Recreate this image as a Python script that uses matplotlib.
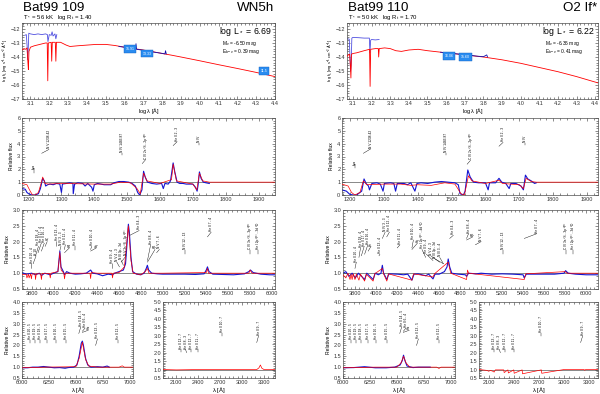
import matplotlib
matplotlib.use("Agg")
import matplotlib.pyplot as plt
from matplotlib.ticker import MultipleLocator, AutoMinorLocator

plt.rcParams["font.family"] = ["Liberation Sans", "DejaVu Sans"]
plt.rcParams["mathtext.default"] = "regular"

# ---------------- data: SED (log lambda, log f_lambda) ----------------
sed109_mod_x = [3.055, 3.065, 3.075, 3.082, 3.086, 3.089, 3.092, 3.10, 3.12, 3.15, 3.18, 3.189,
                3.192, 3.195, 3.21, 3.213, 3.216, 3.232, 3.235, 3.238, 3.26, 3.29, 3.31, 3.35,
                3.40, 3.45, 3.50, 3.55, 3.60, 3.65, 3.70, 3.75, 3.80, 3.85, 3.90, 4.00, 4.10,
                4.20, 4.30, 4.40]
sed109_mod_y = [-13.5, -13.4, -13.45, -13.35, -14.3, -14.9, -13.6, -13.3, -13.2, -13.1, -13.0, -13.0,
                -15.7, -13.0, -12.95, -14.3, -12.95, -12.95, -14.3, -12.95, -12.95, -13.15, -13.25, -13.2,
                -13.15, -13.1, -13.1, -13.18, -13.3, -13.4, -13.5, -13.62, -13.75, -13.87, -14.0, -14.27,
                -14.55, -14.82, -15.1, -15.4]
sed109_uv_x = [3.07, 3.078, 3.082, 3.085, 3.088, 3.091, 3.10, 3.12, 3.14, 3.16, 3.18, 3.19, 3.193,
               3.20, 3.21, 3.215, 3.22, 3.23, 3.235, 3.24]
sed109_uv_y = [-12.45, -12.4, -13.2, -14.2, -13.5, -12.3, -12.35, -12.4, -12.35, -12.4, -12.35, -12.4,
               -12.9, -12.4, -12.45, -12.2, -12.5, -12.35, -12.7, -12.4]
sed109_opt_x = [3.57, 3.60, 3.63, 3.659, 3.661, 3.664, 3.70, 3.73, 3.76, 3.80, 3.815, 3.818, 3.822]
sed109_opt_y = [-13.25, -13.3, -13.38, -13.45, -13.05, -13.45, -13.52, -13.6, -13.66, -13.74, -13.78, -13.55, -13.78]
sed109_phot_x = [3.63, 3.72, 4.34]
sed109_phot_y = [-13.45, -13.75, -14.98]
sed109_phot_lbl = ["15.91", "13.33", "11.5"]

sed110_mod_x = [3.068, 3.075, 3.082, 3.086, 3.089, 3.092, 3.10, 3.12, 3.16, 3.189, 3.192, 3.195,
                3.22, 3.236, 3.238, 3.241, 3.27, 3.30, 3.33, 3.36, 3.40, 3.45, 3.50, 3.60, 3.70,
                3.80, 3.90, 4.00, 4.10, 4.20, 4.30, 4.415]
sed110_mod_y = [-13.95, -13.85, -13.8, -14.6, -15.5, -13.8, -13.75, -13.7, -13.55, -13.45, -16.1, -13.45,
                -13.4, -13.4, -14.0, -13.4, -13.35, -13.4, -13.55, -13.6, -13.5, -13.45, -13.55, -13.7, -13.85,
                -14.0, -14.2, -14.45, -14.75, -15.05, -15.4, -15.85]
sed110_uv_x = [3.07, 3.08, 3.083, 3.087, 3.09, 3.094, 3.10, 3.13, 3.16, 3.188, 3.191, 3.195, 3.20, 3.22, 3.24]
sed110_uv_y = [-12.7, -12.72, -13.6, -15.0, -14.6, -12.65, -12.6, -12.62, -12.65, -12.65, -13.7, -12.8,
               -12.75, -12.78, -12.75]
sed110_opt_x = [3.57, 3.60, 3.63, 3.66, 3.70, 3.73, 3.76, 3.80, 3.818, 3.822]
sed110_opt_y = [-13.66, -13.7, -13.74, -13.78, -13.84, -13.88, -13.93, -13.98, -13.85, -14.0]
sed110_phot_x = [3.615, 3.705]
sed110_phot_y = [-13.95, -13.98]
sed110_phot_lbl = ["16.06", "15.60"]

# ---------------- data: UV relative flux ----------------
uv109_obs_x = [1180, 1190, 1195, 1200, 1205, 1210, 1220, 1230, 1236, 1243, 1248, 1252, 1258, 1265, 1275,
               1285, 1295, 1300, 1303, 1315, 1325, 1335, 1336, 1340, 1350, 1365, 1372, 1380, 1392, 1396,
               1400, 1410, 1420, 1430, 1440, 1450, 1460, 1475, 1490, 1505, 1515, 1525, 1532, 1538, 1545,
               1550, 1555, 1562, 1575, 1590, 1605, 1610, 1615, 1625, 1632, 1640, 1645, 1652, 1660, 1670,
               1680, 1690, 1700, 1708, 1713, 1716, 1720, 1725, 1732, 1740, 1750]
uv109_obs_y = [0.5, 0.45, 0.2, 0.1, 0.05, 0.0, 0.0, 0.1, 0.5, 1.3, 1.1, 0.7, 0.8, 0.85, 0.8,
               0.9, 0.85, 0.2, 0.85, 0.9, 0.95, 0.9, 0.1, 0.85, 0.95, 0.9, 0.7, 0.9, 0.6, 0.3,
               0.8, 0.9, 0.85, 0.8, 0.8, 0.8, 0.95, 1.05, 1.05, 1.0, 0.9, 0.7, 0.2, 0.0, 0.4,
               1.85, 1.4, 1.0, 0.9, 0.85, 0.9, 0.5, 0.9, 0.85, 1.1, 2.5, 1.8, 1.0, 0.9, 0.9,
               0.85, 0.85, 0.85, 0.6, 0.3, 0.8, 1.8, 1.3, 1.0, 0.95, 0.9]
uv109_mod_x = [1180, 1195, 1205, 1212, 1220, 1230, 1238, 1243, 1250, 1260, 1300, 1400, 1450, 1480,
               1510, 1530, 1540, 1550, 1560, 1600, 1635, 1640, 1650, 1700, 1712, 1720, 1730, 1750, 1950]
uv109_mod_y = [0.9, 0.8, 0.3, 0.0, 0.0, 0.2, 0.9, 1.4, 0.9, 0.85, 0.9, 0.85, 0.85, 1.0,
               0.95, 0.5, 0.1, 1.7, 1.1, 0.9, 1.2, 2.4, 1.1, 0.85, 0.4, 1.7, 1.1, 1.0, 1.0]

uv110_obs_x = [1177, 1190, 1200, 1210, 1220, 1235, 1242, 1248, 1255, 1258, 1265, 1280, 1290, 1298,
               1302, 1320, 1330, 1335, 1340, 1360, 1370, 1380, 1392, 1398, 1410, 1430, 1450, 1470,
               1490, 1510, 1520, 1525, 1535, 1540, 1548, 1555, 1565, 1580, 1600, 1608, 1612, 1630,
               1640, 1648, 1660, 1670, 1675, 1690, 1705, 1712, 1718, 1725, 1735, 1745, 1750]
uv110_obs_y = [0.4, 0.3, 0.05, 0.0, 0.0, 0.3, 1.25, 0.9, 0.7, 0.4, 0.9, 0.95, 0.85, 0.3,
               0.9, 0.95, 0.9, 0.3, 0.9, 0.9, 0.8, 0.95, 0.3, 0.9, 0.95, 0.9, 1.0, 1.05,
               1.0, 0.95, 0.8, 0.1, 0.0, 0.3, 1.95, 1.4, 1.0, 0.95, 0.95, 0.4, 0.95, 0.95,
               1.3, 1.0, 0.9, 0.5, 0.9, 0.9, 0.7, 0.4, 1.55, 1.25, 1.1, 0.9, 0.95]
uv110_mod_x = [1177, 1195, 1205, 1215, 1230, 1240, 1250, 1300, 1350, 1380, 1400, 1440, 1480, 1510,
               1528, 1538, 1550, 1560, 1600, 1640, 1650, 1700, 1712, 1720, 1735, 1750, 1932]
uv110_mod_y = [0.85, 0.7, 0.2, 0.0, 0.2, 1.1, 0.8, 0.85, 0.85, 0.75, 0.8, 0.75, 0.95, 0.85,
               0.1, 0.0, 1.5, 1.1, 0.9, 1.15, 0.9, 0.8, 0.5, 1.3, 1.05, 1.0, 1.0]

# ---------------- data: optical relative flux ----------------
opt109_obs_x = [3711, 3750, 3800, 3835, 3870, 3890, 3920, 3970, 4000, 4040, 4058, 4068, 4090, 4101,
                4120, 4150, 4200, 4250, 4300, 4340, 4360, 4400, 4450, 4500, 4541, 4560, 4600, 4640,
                4660, 4675, 4686, 4695, 4710, 4725, 4760, 4800, 4830, 4850, 4860, 4872, 4900, 4950,
                5000, 5100, 5200, 5300, 5380, 5400, 5411, 5425, 5460, 5550, 5650, 5750, 5790, 5805,
                5830, 5900, 5980, 6030]
opt109_obs_y = [1.02, 0.97, 1.0, 0.95, 1.0, 0.93, 1.0, 0.95, 1.0, 1.05, 1.7, 1.2, 1.05, 0.95,
                1.05, 1.0, 0.97, 0.98, 1.0, 1.1, 1.0, 0.98, 0.92, 0.97, 0.95, 1.0, 1.05, 1.1,
                1.3, 2.0, 2.55, 2.3, 1.5, 1.05, 0.97, 0.95, 1.0, 1.15, 1.25, 1.1, 1.0, 0.98,
                0.97, 0.97, 0.97, 0.96, 0.98, 1.1, 1.2, 1.05, 0.97, 0.96, 0.95, 0.98, 1.05, 1.1,
                1.02, 0.97, 0.95, 0.95]
opt109_mod_x = [3711, 3750, 3756, 3770, 3776, 3790, 3797, 3804, 3830, 3835, 3842, 3882, 3889, 3896,
                3963, 3970, 3977, 4040, 4058, 4070, 4094, 4101, 4108, 4300, 4334, 4340, 4346, 4400,
                4535, 4541, 4547, 4600, 4650, 4686, 4710, 4730, 4800, 4840, 4861, 4875, 5000, 5400,
                5411, 5420, 5790, 5801, 5820, 6030]
opt109_mod_y = [0.95, 0.97, 0.85, 0.97, 0.85, 0.98, 0.82, 0.98, 0.98, 0.8, 0.98, 0.98, 0.8, 0.99,
                0.99, 0.85, 1.0, 1.05, 1.65, 1.1, 1.0, 0.82, 1.0, 1.0, 1.0, 0.83, 1.02, 1.0,
                1.0, 0.85, 1.0, 1.02, 1.2, 2.5, 1.4, 1.0, 0.95, 1.05, 1.15, 1.0, 1.0, 1.02,
                1.15, 1.0, 1.0, 1.1, 1.0, 1.0]

opt110_obs_x = [3683, 3710, 3740, 3770, 3800, 3830, 3860, 3889, 3910, 3970, 3990, 4020, 4045, 4058,
                4070, 4101, 4120, 4200, 4260, 4300, 4340, 4360, 4400, 4471, 4500, 4541, 4560, 4600,
                4650, 4675, 4686, 4700, 4720, 4780, 4850, 4861, 4880, 4950, 5000, 5100, 5200, 5300,
                5400, 5411, 5430, 5550, 5700, 5790, 5805, 5830, 5900, 6000, 6114]
opt110_obs_y = [1.0, 1.05, 0.9, 1.0, 0.85, 1.0, 0.9, 0.8, 1.0, 0.8, 1.0, 0.95, 1.0, 1.25,
                1.0, 0.8, 0.98, 0.97, 0.95, 0.97, 0.78, 0.97, 0.98, 0.92, 0.97, 0.82, 0.97, 0.97,
                1.05, 1.2, 1.45, 1.2, 1.0, 0.97, 0.95, 0.9, 1.0, 0.98, 1.0, 0.97, 0.98, 0.97,
                0.95, 0.85, 0.97, 0.97, 0.97, 1.0, 1.08, 1.0, 0.97, 0.95, 0.95]
opt110_mod_x = [3683, 3710, 3730, 3750, 3760, 3770, 3780, 3797, 3810, 3835, 3850, 3889, 3905, 3970,
                3985, 4058, 4070, 4101, 4115, 4340, 4355, 4541, 4555, 4686, 4710, 4861, 4870, 4880,
                5411, 5425, 5801, 5820, 6114]
opt110_mod_y = [0.95, 0.85, 1.0, 0.8, 0.97, 0.8, 0.98, 0.8, 0.97, 0.78, 0.97, 0.75, 0.97, 0.75,
                0.98, 1.15, 0.98, 0.75, 0.98, 0.78, 0.98, 0.88, 0.98, 1.35, 1.0, 0.8, 1.1, 1.0,
                0.8, 0.98, 1.05, 1.0, 1.0]

# ---------------- data: H-alpha region ----------------
ha109_obs_x = [6000, 6050, 6100, 6150, 6200, 6250, 6300, 6350, 6400, 6430, 6480, 6510, 6530, 6550,
               6560, 6570, 6590, 6610, 6640, 6700, 6750, 6790, 6810]
ha109_obs_y = [0.97, 0.97, 1.0, 1.0, 1.03, 1.0, 0.97, 0.98, 0.95, 0.98, 1.0, 1.1, 1.5, 2.1,
               2.2, 2.0, 1.4, 1.1, 1.0, 1.02, 1.0, 1.05, 1.0]
ha109_mod_x = [6000, 6200, 6500, 6530, 6560, 6590, 6620, 6700, 6900, 6930, 6950, 7030]
ha109_mod_y = [0.97, 1.0, 1.02, 1.4, 2.15, 1.35, 1.05, 1.0, 1.0, 1.06, 1.0, 1.0]

ha110_obs_x = [6000, 6100, 6200, 6300, 6400, 6480, 6530, 6550, 6562, 6575, 6595, 6650, 6700, 6750, 6810]
ha110_obs_y = [0.97, 0.98, 1.02, 0.97, 0.97, 1.0, 1.1, 1.3, 1.55, 1.3, 1.05, 0.98, 1.0, 1.0, 1.0]
ha110_mod_x = [6000, 6300, 6500, 6540, 6562, 6585, 6620, 6870, 6891, 6910, 7040]
ha110_mod_y = [0.97, 1.0, 1.0, 1.2, 1.5, 1.2, 1.0, 1.0, 0.94, 1.0, 1.0]

# ---------------- data: IR region (model only) ----------------
ir109_mod_x = [1917, 2100, 2400, 2700, 3000, 3200, 3230, 3250, 3270, 3300, 3450]
ir109_mod_y = [1.0, 0.98, 1.0, 1.0, 1.0, 1.0, 1.1, 1.27, 1.08, 1.0, 1.0]
ir110_mod_x = [1984, 2080, 2100, 2120, 2150, 2165, 2180, 2280, 2285, 2330, 2335, 2400, 2405,
               2500, 2505, 2730, 2735, 3000, 3240, 3250, 3260, 3408]
ir110_mod_y = [1.0, 0.95, 0.9, 0.95, 0.9, 0.85, 0.98, 0.98, 0.82, 0.98, 0.8, 0.98, 0.78,
               0.98, 0.75, 0.98, 0.78, 1.0, 1.0, 0.96, 1.0, 1.0]

# ---------------- line identifications: (line x, line y, text x, text y, label) ----------------
uv_ann_109 = [(1215, 1.7, 1215, 2.0, "Lyα"), (1240, 3.25, 1262, 3.55, "N V 1238-42"),
              (1485, 3.1, 1485, 3.25, "N IV 1483-87"), (1546, 2.45, 1556, 2.75, "C IV 2s ²S - 2p ²P°"),
              (1640, 3.85, 1652, 4.15, "He II 2 - 3"), (1718, 3.9, 1718, 4.05, "N IV")]
uv_ann_110 = [(1215, 2.1, 1215, 2.3, "Lyα"), (1240, 3.25, 1262, 3.6, "N V 1238-42"),
              (1485, 3.1, 1485, 3.25, "N IV 1483-87"), (1546, 2.4, 1556, 2.7, "C IV 2s ²S - 2p ²P°"),
              (1640, 3.8, 1652, 4.1, "He II 2 - 3"), (1718, 3.9, 1718, 4.05, "N IV")]
opt_ann_109 = [(3797, 1.15, 3800, 1.3, "He II 20 - 4"), (3813, 1.3, 3840, 1.55, "H 10"),
               (3835, 1.55, 3862, 1.85, "He II 18 - 4"), (3858, 1.65, 3888, 1.95, "He II 17 - 4"),
               (3889, 1.7, 3915, 1.95, "He II 16 - 4"), (3923, 1.85, 3942, 2.0, "Hζ"),
               (4026, 1.85, 4030, 2.0, "He II 13 - 4"), (4058, 1.72, 4068, 1.85, "N IV 3 - 3"),
               (4100, 1.75, 4108, 1.9, "He II 12 - 4"), (4101, 1.65, 4145, 1.8, "Hδ"),
               (4200, 1.75, 4200, 1.85, "He II 11 - 4"), (4340, 1.75, 4350, 1.85, "He II 10 - 4"),
               (4340, 1.7, 4392, 1.8, "Hγ"), (4541, 1.15, 4538, 1.3, "He II 9 - 4"),
               (4604, 1.2, 4580, 1.35, "N V 4 - 3"), (4640, 1.25, 4622, 1.4, "N III 3p - 3d"),
               (4620, 1.35, 4665, 1.55, "N V 3s ²S - 3p ²P°"), (4700, 2.2, 4785, 2.35, "He II 4 - 3"),
               (4861, 1.4, 4890, 1.9, "He II 8 - 4"), (4861, 1.35, 4930, 1.75, "Hβ"),
               (4945, 1.65, 4970, 1.75, "N V 7 - 6"), (5204, 1.6, 5204, 1.72, "N IV 12 - 13"),
               (5411, 2.15, 5445, 2.3, "He II 7 - 4"), (5805, 1.6, 5805, 1.72, "C IV 3s ²S - 3p ²P°"),
               (5876, 1.6, 5876, 1.72, "He I 2p ³P° - 3d ³D")]
opt_ann_110 = [(3797, 1.15, 3810, 1.35, "He II 20 - 4"), (3835, 1.5, 3850, 1.8, "He II 18 - 4"),
               (3858, 1.55, 3885, 1.85, "He II 17 - 4"), (3889, 1.6, 3920, 1.9, "He II 16 - 4"),
               (3923, 1.7, 3950, 1.85, "Hε"), (4026, 1.55, 4035, 1.6, "He II 13 - 4"),
               (4058, 2.1, 4085, 2.3, "N IV 3 - 3"), (4100, 2.15, 4125, 2.3, "He II 12 - 4"),
               (4200, 1.8, 4226, 1.9, "He II 11 - 4"), (4340, 1.8, 4354, 2.05, "He II 10 - 4"),
               (4340, 1.75, 4392, 1.95, "Hγ"), (4471, 1.5, 4436, 1.75, "He I 2p ³P° - 4d ³D"),
               (4541, 1.4, 4478, 1.6, "He II 9 - 4"), (4604, 1.35, 4520, 1.55, "N V 4 - 3"),
               (4640, 1.3, 4562, 1.45, "N III 3p - 3d"), (4640, 1.3, 4605, 1.5, "N III 3 - 4"),
               (4700, 2.1, 4735, 2.2, "He II 4 - 3"), (4861, 2.1, 4880, 2.25, "He II 8 - 4"),
               (4861, 2.05, 4920, 2.15, "Hβ"), (4945, 1.9, 5000, 2.0, "N V 7 - 6"),
               (5204, 1.6, 5204, 1.72, "N IV 12 - 13"), (5411, 2.1, 5530, 2.25, "He II 7 - 4"),
               (5805, 1.6, 5805, 1.72, "C IV 3s ²S - 3p ²P°"), (5876, 1.6, 5876, 1.72, "He I 2p ³P° - 3d ³D")]
ha_ann = [(6074, 2.1, 6074, 2.25, "He II 20 - 5"), (6118, 2.1, 6118, 2.25, "He II 19 - 5"),
          (6171, 2.1, 6171, 2.25, "He II 18 - 5"), (6234, 2.1, 6234, 2.25, "He II 17 - 5"),
          (6311, 2.1, 6311, 2.25, "He II 16 - 5"), (6406, 2.1, 6406, 2.25, "He II 15 - 5"),
          (6527, 2.55, 6545, 2.85, "He II 14 - 5"), (6560, 2.65, 6585, 2.8, "He II 6 - 4"),
          (6560, 2.6, 6615, 2.7, "Hα"), (6683, 2.0, 6700, 2.3, "He II 13 - 5"),
          (6891, 2.1, 6891, 2.25, "He II 12 - 5")]
ir_ann = [(2165, 2.05, 2165, 2.2, "He II 13 - 7"), (2240, 2.0, 2225, 2.2, "He II 8 - 3"),
          (2300, 2.05, 2300, 2.2, "He II 12 - 7"), (2400, 2.05, 2400, 2.2, "He II 11 - 7"),
          (2720, 3.0, 2720, 3.15, "He II 10 - 7"), (3200, 2.6, 3225, 3.0, "He II 9 - 7")]

# ---------------- drawing ----------------
W, H = 600, 394
fig = plt.figure(figsize=(6, 3.94), dpi=100)
BLUE = "#1414d2"


def box(x0, y0, x1, y1):
    return fig.add_axes([x0 / W, 1 - y1 / H, (x1 - x0) / W, (y1 - y0) / H])


def style(ax, xlim, ylim, xmaj, ymaj):
    ax.set_xlim(*xlim)
    ax.set_ylim(*ylim)
    ax.xaxis.set_major_locator(MultipleLocator(xmaj))
    ax.yaxis.set_major_locator(MultipleLocator(ymaj))
    ax.xaxis.set_minor_locator(AutoMinorLocator(5))
    ax.yaxis.set_minor_locator(AutoMinorLocator(5))
    ax.tick_params(which="both", direction="in", top=True, right=True, labelsize=4,
                   width=0.4, pad=1.2, colors="0.2")
    ax.tick_params(which="major", length=2.2)
    ax.tick_params(which="minor", length=1.1)
    for s in ax.spines.values():
        s.set_linewidth(0.5)
        s.set_color("0.3")


def mark(ax, ann):
    for x0, y0, x1, y1, txt in ann:
        ax.plot([x0, x1], [y0, y1], color="k", lw=0.3)
        ax.text(x1, y1 + 0.02 * (ax.get_ylim()[1] - ax.get_ylim()[0]), txt, rotation=90,
                ha="center", va="bottom", fontsize=2.3)


def spec(ax, ox, oy, mx, my):
    ax.axhline(1.0, color="0.35", lw=0.5, zorder=1)
    if ox is not None:
        ax.plot(ox, oy, color=BLUE, lw=0.8, zorder=2)
    ax.plot(mx, my, color="red", lw=0.5, zorder=3)


cols = [
    dict(x0=22, x1=275, name="Bat99 109", sp="WN5h",
         par=r"$T_*$ = 56 kK   log $R_t$ = 1.40", lum=r"log $L_*$ = 6.69",
         mv=r"$M_v$ = -6.50 mag", ebv=r"$E_{b-v}$ = 0.39 mag", txtx=222,
         sed=(sed109_mod_x, sed109_mod_y, sed109_uv_x, sed109_uv_y, sed109_opt_x, sed109_opt_y,
              sed109_phot_x, sed109_phot_y, sed109_phot_lbl), sedx=(3.055, 4.4),
         uv=(uv109_obs_x, uv109_obs_y, uv109_mod_x, uv109_mod_y), uvx=(1180, 1950), uva=uv_ann_109,
         opt=(opt109_obs_x, opt109_obs_y, opt109_mod_x, opt109_mod_y), optx=(3711, 6030), opta=opt_ann_109,
         ha=(ha109_obs_x, ha109_obs_y, ha109_mod_x, ha109_mod_y), hax=(22, 133), hal=(6000, 7030),
         ir=(ir109_mod_x, ir109_mod_y), irx=(163, 275), irl=(1917, 3450)),
    dict(x0=347, x1=598, name="Bat99 110", sp="O2 If*",
         par=r"$T_*$ = 50 kK   log $R_t$ = 1.70", lum=r"log $L_*$ = 6.22",
         mv=r"$M_v$ = -6.36 mag", ebv=r"$E_{b-v}$ = 0.41 mag", txtx=545,
         sed=(sed110_mod_x, sed110_mod_y, sed110_uv_x, sed110_uv_y, sed110_opt_x, sed110_opt_y,
              sed110_phot_x, sed110_phot_y, sed110_phot_lbl), sedx=(3.068, 4.415),
         uv=(uv110_obs_x, uv110_obs_y, uv110_mod_x, uv110_mod_y), uvx=(1177, 1932), uva=uv_ann_110,
         opt=(opt110_obs_x, opt110_obs_y, opt110_mod_x, opt110_mod_y), optx=(3683, 6114), opta=opt_ann_110,
         ha=(ha110_obs_x, ha110_obs_y, ha110_mod_x, ha110_mod_y), hax=(343, 455), hal=(6000, 7040),
         ir=(ir110_mod_x, ir110_mod_y), irx=(479, 598), irl=(1984, 3408)),
]

for c in cols:
    # SED panel
    ax = box(c["x0"], 22.7, c["x1"], 99)
    mx, my, ux, uy, qx, qy, px, py, pl = c["sed"]
    ax.plot(ux, uy, color="#5050e0", lw=0.6, zorder=2)
    ax.plot(mx, my, color="red", lw=0.6, zorder=3)
    ax.plot(qx, qy, color="#1010b0", lw=0.6, zorder=4)
    for x, y, t in zip(px, py, pl):
        ax.text(x, y, t, fontsize=2.6, color="white", ha="center", va="center", zorder=5,
                bbox=dict(boxstyle="square,pad=0.5", fc="#2a8cf0", ec="#1060c0", lw=0.3))
    style(ax, c["sedx"], (-17, -11.55), 0.1, 1)
    ax.set_xlabel(r"log $\lambda$ [Å]", fontsize=4, labelpad=0.5)
    ax.set_ylabel(r"log $f_\lambda$ [erg s$^{-1}$ cm$^{-2}$ Å$^{-1}$]", fontsize=2.9, labelpad=0.8)
    ax.text(0.985, 0.885, c["lum"], transform=ax.transAxes, ha="right", va="center", fontsize=6.3)
    fig.text(c["txtx"] / W, 1 - 43.5 / H, c["mv"], fontsize=3.5, va="center")
    fig.text(c["txtx"] / W, 1 - 51.5 / H, c["ebv"], fontsize=3.5, va="center")
    fig.text((c["x0"] + 1) / W, 1 - 11 / H, c["name"], fontsize=9.6, va="baseline")
    fig.text((c["x1"] - 1) / W, 1 - 11 / H, c["sp"], fontsize=9.6, va="baseline", ha="right")
    fig.text((c["x0"] + 1) / W, 1 - 19 / H, c["par"], fontsize=4.3, va="baseline")

    # UV panel
    ax = box(c["x0"] if c["x0"] == 22 else 342, 118, c["x1"], 195)
    spec(ax, *c["uv"])
    mark(ax, c["uva"])
    style(ax, c["uvx"], (0, 6), 100, 1)
    ax.set_ylabel("Relative flux", fontsize=3.6, labelpad=2)

    # optical panel
    ax = box(c["x0"] if c["x0"] == 22 else 343, 210, c["x1"], 289)
    spec(ax, *c["opt"])
    mark(ax, c["opta"])
    style(ax, c["optx"], (0.5, 3.0), 200, 0.5)
    ax.set_ylabel("Relative flux", fontsize=3.6, labelpad=2)

    # H-alpha panel
    ax = box(c["hax"][0], 302, c["hax"][1], 378)
    spec(ax, *c["ha"])
    mark(ax, ha_ann)
    style(ax, c["hal"], (0.5, 4.0), 250, 0.5)
    ax.set_ylabel("Relative flux", fontsize=3.6, labelpad=2)
    ax.set_xlabel(r"$\lambda$ [Å]", fontsize=4.3, labelpad=0)

    # IR panel
    ax = box(c["irx"][0], 302, c["irx"][1], 378)
    spec(ax, None, None, *c["ir"])
    mark(ax, ir_ann)
    style(ax, c["irl"], (0.5, 5.0), 300, 0.5)
    ax.set_xlabel(r"$\lambda$ [Å]", fontsize=4.3, labelpad=0)

fig.savefig("out.png", dpi=100)
